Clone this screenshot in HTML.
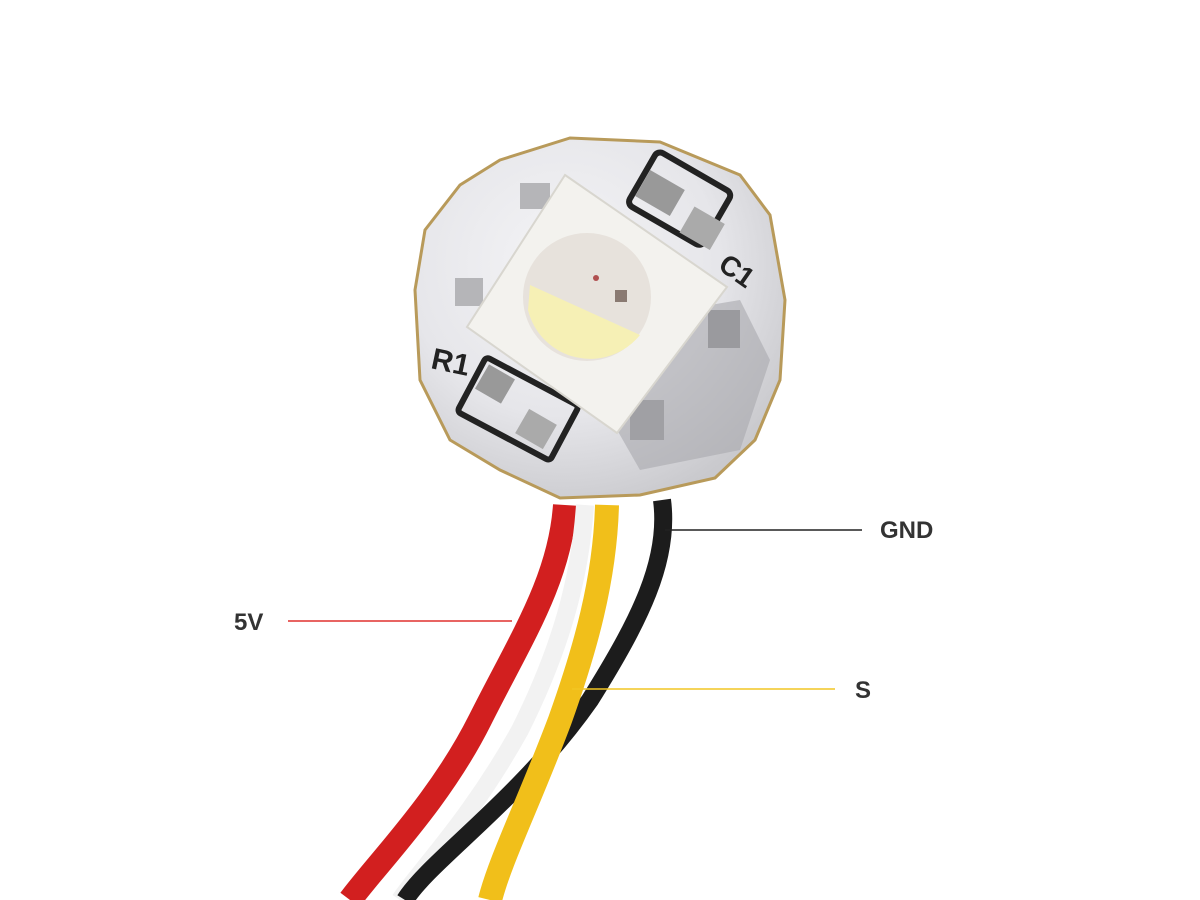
<!DOCTYPE html>
<html><head><meta charset="utf-8"><style>
html,body{margin:0;padding:0;background:#fff;}
svg{display:block;}
text{font-family:"Liberation Sans",sans-serif;font-weight:bold;}
</style></head><body>
<svg width="1200" height="900" viewBox="0 0 1200 900" xmlns="http://www.w3.org/2000/svg">
<defs>
<radialGradient id="pcb" cx="0.4" cy="0.35" r="0.7">
<stop offset="0" stop-color="#f4f4f6"/><stop offset="0.6" stop-color="#e6e6ea"/><stop offset="1" stop-color="#c9c9cd"/>
</radialGradient>
</defs>
<path d="M565 505 C560 580 520 640 480 720 C440 800 380 860 350 900" stroke="#d21f1f" stroke-width="24" fill="none"/>
<path d="M585 505 C580 580 560 650 520 730 C470 820 420 870 400 900" stroke="#f2f2f2" stroke-width="18" fill="none"/>
<path d="M662 500 C670 560 640 620 590 700 C520 800 430 860 405 900" stroke="#1c1c1c" stroke-width="18" fill="none"/>
<path d="M607 505 C605 580 585 650 560 720 C530 800 500 860 490 900" stroke="#f1bf1a" stroke-width="24" fill="none"/>
<path d="M500 160 L570 138 L660 142 L740 175 L770 215 L785 300 L780 380 L755 440 L715 478 L640 495 L560 498 L500 470 L450 440 L420 380 L415 290 L425 230 L460 185 Z" fill="url(#pcb)" stroke="#b89a5a" stroke-width="3"/>
<path d="M560 330 L740 300 L770 360 L740 450 L640 470 Z" fill="#a9a9ae" opacity="0.6"/>
<rect x="636" y="168" width="86" height="62" rx="6" fill="none" stroke="#222" stroke-width="6" transform="rotate(30 680 200)"/>
<rect x="465" y="378" width="105" height="62" rx="4" fill="none" stroke="#222" stroke-width="6" transform="rotate(28 518 410)"/>
<text x="432" y="372" font-size="30" fill="#222" transform="rotate(12 450 360)">R1</text>
<text x="720" y="282" font-size="28" fill="#222" transform="rotate(35 740 270)">C1</text>
<rect x="640" y="178" width="40" height="30" fill="#999" transform="rotate(30 660 193)"/>
<rect x="685" y="212" width="35" height="30" fill="#aaa" transform="rotate(30 700 227)"/>
<rect x="480" y="370" width="30" height="28" fill="#999" transform="rotate(30 495 384)"/>
<rect x="520" y="415" width="32" height="28" fill="#aaa" transform="rotate(30 536 429)"/>
<rect x="455" y="278" width="28" height="28" fill="#b5b5b8"/>
<rect x="520" y="183" width="30" height="26" fill="#b5b5b8"/>
<rect x="708" y="310" width="32" height="38" fill="#9a9a9e"/>
<rect x="630" y="400" width="34" height="40" fill="#a0a0a4"/>
<polygon points="565,175 727,287 617,433 467,327" fill="#f3f2ee" stroke="#d8d6cf" stroke-width="2"/>
<circle cx="587" cy="297" r="64" fill="#e7e2dc"/>
<path d="M530 285 L640 335 A64 64 0 0 1 528 310 Z" fill="#f6f0b5"/>
<rect x="615" y="290" width="12" height="12" fill="#8a7a72"/>
<circle cx="596" cy="278" r="3" fill="#b05050"/>
<line x1="665" y1="530" x2="862" y2="530" stroke="#222" stroke-width="1.5"/>
<line x1="288" y1="621" x2="512" y2="621" stroke="#e0312f" stroke-width="1.5"/>
<line x1="572" y1="689" x2="835" y2="689" stroke="#f2c523" stroke-width="1.5"/>
<text x="880" y="538" font-size="24" fill="#333">GND</text>
<text x="234" y="630" font-size="24" fill="#333">5V</text>
<text x="855" y="698" font-size="24" fill="#333">S</text>
</svg>
</body></html>
